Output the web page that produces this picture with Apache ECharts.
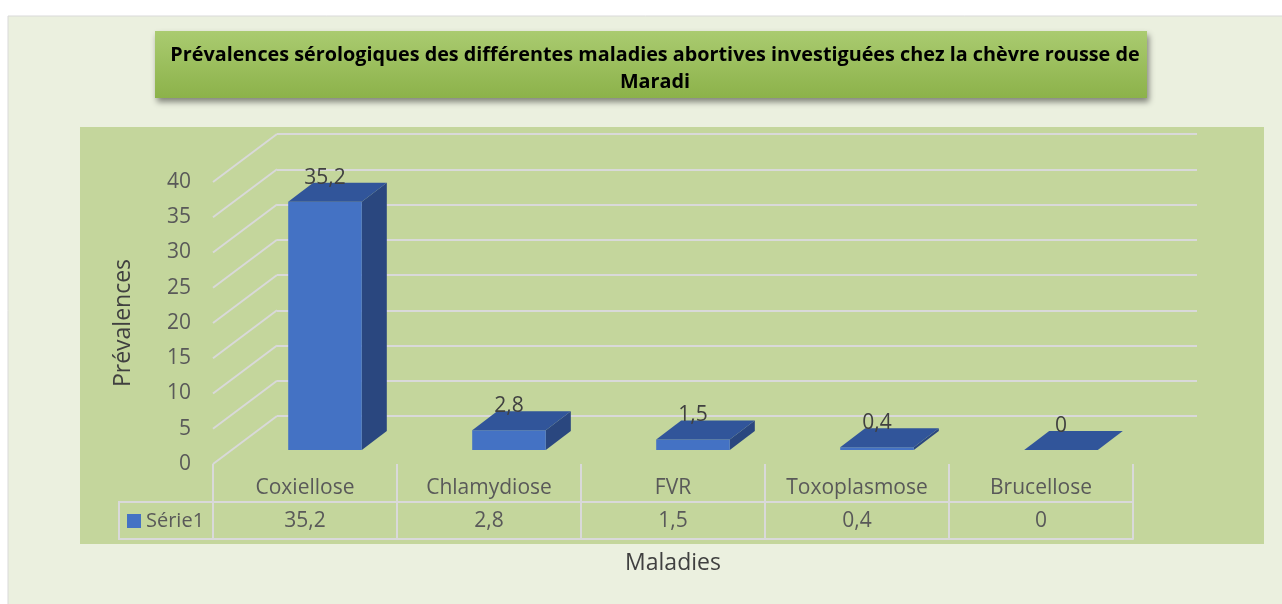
<!DOCTYPE html>
<html>
<head>
<meta charset="utf-8">
<script src="https://cdn.jsdelivr.net/npm/echarts@6/dist/echarts.min.js"></script>
<style>
  html, body { margin: 0; padding: 0; background: #fff; }
  #main { width: 1282px; height: 604px; }
</style>
</head>
<body>
<div id="main"></div>
<script>
// categories / values
var maladies = ['Coxiellose', 'Chlamydiose', 'FVR', 'Toxoplasmose', 'Brucellose'];
var prevalences = [35.2, 2.8, 1.5, 0.4, 0];
var yTicks = [0, 5, 10, 15, 20, 25, 30, 35, 40];

var FONT = '"Open Sans", sans-serif';
var fmt = function (v) { return String(v).replace('.', ','); };

// depth of the 3D box (pixels) : back wall -> front edge
var DEPTH_X = -64, DEPTH_Y = 48;
// bar depth (pixels), bar sits in the middle of the floor
var BAR_DX = 25, BAR_DY = -19;

var chart = echarts.init(document.getElementById('main'));

var option = {
  backgroundColor: '#ffffff',
  animation: false,
  title: {
    text: 'Prévalences sérologiques des différentes maladies abortives investiguées chez la chèvre rousse de\nMaradi',
    left: 650,
    top: 37,
    textAlign: 'center',
    textStyle: { fontFamily: FONT, fontWeight: 'bold', fontSize: 19.8, lineHeight: 27, color: '#000' }
  },
  legend: {
    data: ['Série1'],
    left: 127, top: 511,
    padding: 0,
    icon: 'rect',
    itemWidth: 14, itemHeight: 14,
    itemGap: 6,
    textStyle: { fontFamily: FONT, fontSize: 20, color: '#595959', padding: [0, 0, 0, 0] }
  },
  graphic: [
    // outer panel
    { type: 'rect', z: -10, shape: { x: 8, y: 16, width: 1290, height: 600 },
      style: { fill: '#ebf0df', stroke: '#d9d9d9', lineWidth: 1 } },
    // title box
    { type: 'rect', z: -5, shape: { x: 155, y: 31, width: 992, height: 67 },
      style: {
        fill: new echarts.graphic.LinearGradient(0, 0, 0, 1, [
          { offset: 0, color: '#aacb70' }, { offset: 1, color: '#8cb24a' }]),
        shadowBlur: 6, shadowOffsetX: 2, shadowOffsetY: 4, shadowColor: 'rgba(0,0,0,0.45)'
      } },
    // plot area
    { type: 'rect', z: -8, shape: { x: 80, y: 127, width: 1184, height: 417 },
      style: { fill: '#c4d69c' } },
    // legend cell of the data table
    { type: 'polyline', z: 5, shape: { points: [[213, 502], [119, 502], [119, 539], [213, 539]] },
      style: { stroke: '#d9d9d9', lineWidth: 2, fill: null } }
  ],
  grid: [
    // back wall
    { left: 277, top: 134, width: 920, height: 282 },
    // front plane (tick labels + data table)
    { left: 213, top: 182, width: 920, height: 282 },
    // front face of the bars
    { left: 233, top: 168, width: 920, height: 282 }
  ],
  xAxis: [
    { gridIndex: 0, type: 'category', data: maladies, show: false },
    {
      gridIndex: 1, type: 'category', data: maladies, position: 'bottom',
      name: 'Maladies', nameLocation: 'middle', nameGap: 88,
      nameTextStyle: { fontFamily: FONT, fontSize: 23, color: '#404040' },
      axisLine: { show: false },
      axisTick: { show: true, length: 75, lineStyle: { color: '#d9d9d9', width: 2 } },
      axisLabel: { fontFamily: FONT, fontSize: 21, color: '#595959', margin: 14 }
    },
    {
      gridIndex: 1, type: 'category', data: prevalences.map(fmt), position: 'bottom', offset: 38,
      axisLine: { show: true, lineStyle: { color: '#d9d9d9', width: 2 } },
      axisTick: { show: false },
      axisLabel: { fontFamily: FONT, fontSize: 21, color: '#595959', margin: 9 }
    },
    {
      gridIndex: 1, type: 'category', data: maladies, position: 'bottom', offset: 75,
      axisLine: { show: true, lineStyle: { color: '#d9d9d9', width: 2 } },
      axisTick: { show: false }, axisLabel: { show: false }
    },
    { gridIndex: 2, type: 'category', data: maladies, show: false }
  ],
  yAxis: [
    {
      gridIndex: 0, type: 'value', min: 0, max: 40, interval: 5,
      axisLine: { show: false }, axisTick: { show: false }, axisLabel: { show: false },
      splitLine: { show: true, lineStyle: { color: '#d9d9d9', width: 2 } }
    },
    {
      gridIndex: 1, type: 'value', min: 0, max: 40, interval: 5,
      name: 'Prévalences', nameLocation: 'middle', nameGap: 78,
      nameTextStyle: { fontFamily: FONT, fontSize: 23, color: '#404040' },
      axisLine: { show: false }, axisTick: { show: false }, splitLine: { show: false },
      axisLabel: { fontFamily: FONT, fontSize: 21, color: '#595959', margin: 22 }
    },
    { gridIndex: 2, type: 'value', min: 0, max: 40, interval: 5, show: false }
  ],
  series: [
    {
      // side diagonals of the 3D box
      type: 'custom', xAxisIndex: 0, yAxisIndex: 0, silent: true, z: 1,
      data: yTicks,
      encode: { y: 0 },
      renderItem: function (params, api) {
        var p = api.coord([0, api.value(0)]);
        var x0 = params.coordSys.x;
        return {
          type: 'line',
          shape: { x1: x0, y1: p[1], x2: x0 + DEPTH_X, y2: p[1] + DEPTH_Y },
          style: { stroke: '#d9d9d9', lineWidth: 2 }
        };
      }
    },
    {
      name: 'Série1',
      type: 'custom', xAxisIndex: 4, yAxisIndex: 2, z: 3,
      itemStyle: { color: '#4472c4' },
      data: prevalences.map(function (v, i) { return [i, v]; }),
      encode: { x: 0, y: 1 },
      renderItem: function (params, api) {
        var i = api.value(0), v = api.value(1);
        var base = api.coord([i, 0]);
        var top = api.coord([i, v]);
        var bw = api.size([1, 0])[0] * 0.4;
        var xl = base[0] - bw / 2, xr = base[0] + bw / 2;
        var children = [];
        if (base[1] - top[1] > 0.5) {
          children.push({
            type: 'polygon',
            shape: { points: [[xr, top[1]], [xr + BAR_DX, top[1] + BAR_DY], [xr + BAR_DX, base[1] + BAR_DY], [xr, base[1]]] },
            style: { fill: '#2a477f' }
          });
          children.push({
            type: 'rect',
            shape: { x: xl, y: top[1], width: bw, height: base[1] - top[1] },
            style: { fill: '#4472c4' }
          });
        }
        children.push({
          type: 'polygon',
          shape: { points: [[xl, top[1]], [xl + BAR_DX, top[1] + BAR_DY], [xr + BAR_DX, top[1] + BAR_DY], [xr, top[1]]] },
          style: { fill: '#31559a' }
        });
        children.push({
          type: 'text', z2: 10,
          style: {
            text: fmt(v), x: base[0], y: top[1] - 24,
            align: 'center', verticalAlign: 'middle',
            font: '21px ' + FONT, fill: '#404040'
          }
        });
        return { type: 'group', children: children };
      }
    }
  ]
};

chart.setOption(option);
</script>
</body>
</html>
